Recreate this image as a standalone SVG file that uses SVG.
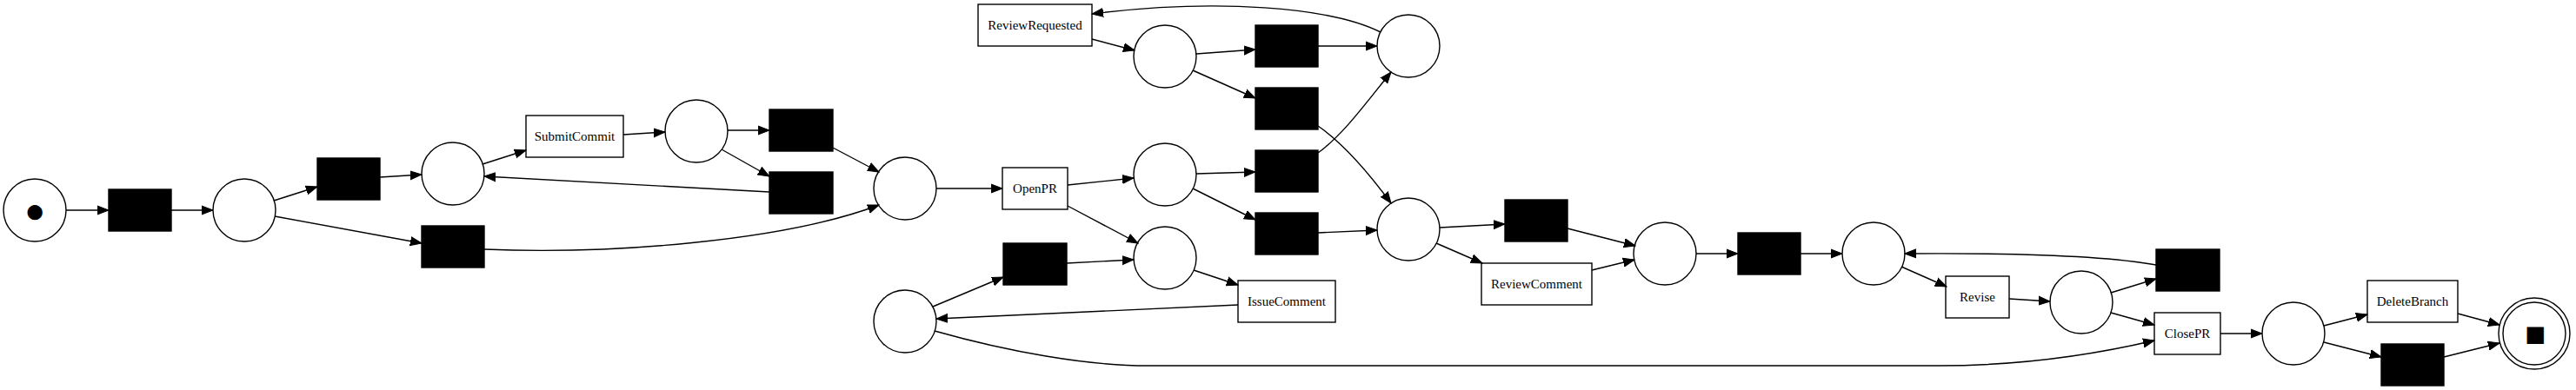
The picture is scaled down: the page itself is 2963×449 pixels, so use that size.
<svg xmlns="http://www.w3.org/2000/svg" width="2963" height="449" viewBox="0 0 2963 449">
<defs>
<style>
.place{fill:#fff;stroke:#000;stroke-width:1.4}
.inv{fill:#000;stroke:#000;stroke-width:1.4}
.box{fill:#fff;stroke:#000;stroke-width:1.4}
.lbl{font-family:"Liberation Serif","Times New Roman",serif;font-size:15px;fill:#000;text-anchor:middle}
.tok{font-family:"Liberation Sans","DejaVu Sans",sans-serif;fill:#000;text-anchor:middle}
.edge path{fill:none;stroke:#000;stroke-width:1.4;marker-end:url(#arr)}
</style>
<marker id="arr" markerUnits="userSpaceOnUse" markerWidth="14" markerHeight="12" refX="13" refY="5" orient="auto" viewBox="0 0 14 10">
<path d="M0,0 L13,5 L0,10 z" fill="#000" stroke="#000" stroke-width="1"/>
</marker>
</defs>
<rect width="2963" height="449" fill="#fff"/>

<g id="nodes">
<g id="p_start"><circle class="place" cx="40" cy="242" r="36"/><text class="tok" x="40" y="256" font-size="40">●</text></g>
<g id="t1"><rect class="inv" x="125" y="218" width="72" height="48"/></g>
<g id="p1"><circle class="place" cx="281" cy="242" r="36"/></g>
<g id="t2"><rect class="inv" x="365" y="182" width="72" height="48"/></g>
<g id="t3"><rect class="inv" x="485" y="260" width="72" height="48"/></g>
<g id="p2"><circle class="place" cx="521" cy="200" r="36"/></g>
<g id="SubmitCommit"><rect class="box" x="605" y="133" width="112" height="48"/><text class="lbl" x="661" y="162">SubmitCommit</text></g>
<g id="p3"><circle class="place" cx="801" cy="151" r="36"/></g>
<g id="t4"><rect class="inv" x="885" y="126" width="73" height="48"/></g>
<g id="t5"><rect class="inv" x="885" y="198" width="73" height="48"/></g>
<g id="p4"><circle class="place" cx="1041" cy="217" r="36"/></g>
<g id="OpenPR"><rect class="box" x="1153" y="193" width="75" height="48"/><text class="lbl" x="1190.5" y="222">OpenPR</text></g>
<g id="ReviewRequested"><rect class="box" x="1125" y="5" width="131" height="48"/><text class="lbl" x="1190.5" y="34">ReviewRequested</text></g>
<g id="t6"><rect class="inv" x="1154" y="280" width="73" height="48"/></g>
<g id="p7"><circle class="place" cx="1041" cy="370" r="36"/></g>
<g id="p8"><circle class="place" cx="1340" cy="65" r="36"/></g>
<g id="p5"><circle class="place" cx="1340" cy="201" r="36"/></g>
<g id="p6"><circle class="place" cx="1340" cy="297" r="36"/></g>
<g id="t7"><rect class="inv" x="1444" y="29" width="72" height="48"/></g>
<g id="t8"><rect class="inv" x="1444" y="101" width="72" height="48"/></g>
<g id="t9"><rect class="inv" x="1444" y="173" width="72" height="48"/></g>
<g id="t10"><rect class="inv" x="1444" y="245" width="72" height="48"/></g>
<g id="IssueComment"><rect class="box" x="1424" y="323" width="112" height="48"/><text class="lbl" x="1480" y="352">IssueComment</text></g>
<g id="p9"><circle class="place" cx="1620" cy="53" r="36"/></g>
<g id="p10"><circle class="place" cx="1620" cy="264" r="36"/></g>
<g id="t11"><rect class="inv" x="1731" y="230" width="72" height="48"/></g>
<g id="ReviewComment"><rect class="box" x="1704" y="303" width="127" height="48"/><text class="lbl" x="1767.5" y="332">ReviewComment</text></g>
<g id="p11"><circle class="place" cx="1915" cy="292" r="36"/></g>
<g id="t12"><rect class="inv" x="1999" y="268" width="72" height="48"/></g>
<g id="p12"><circle class="place" cx="2155" cy="292" r="36"/></g>
<g id="Revise"><rect class="box" x="2238" y="318" width="73" height="48"/><text class="lbl" x="2274.5" y="347">Revise</text></g>
<g id="p13"><circle class="place" cx="2394" cy="348" r="36"/></g>
<g id="t13"><rect class="inv" x="2480" y="287" width="73" height="48"/></g>
<g id="ClosePR"><rect class="box" x="2478" y="360" width="76" height="48"/><text class="lbl" x="2516" y="389">ClosePR</text></g>
<g id="p14"><circle class="place" cx="2638" cy="384" r="36"/></g>
<g id="DeleteBranch"><rect class="box" x="2723" y="323" width="104" height="48"/><text class="lbl" x="2775" y="352">DeleteBranch</text></g>
<g id="t14"><rect class="inv" x="2739" y="396" width="72" height="48"/></g>
<g id="p_end"><circle class="place" cx="2915" cy="384" r="41"/><circle class="place" cx="2915" cy="384" r="36"/><text class="tok" x="2916" y="398" font-size="40">■</text></g>
</g>

<g id="edges" class="edge">
<path d="M76,242 L125,242"/>
<path d="M197,242 L245,242"/>
<path d="M315,231 L365,215"/>
<path d="M316,249 L485,280"/>
<path d="M437,204 L485,201"/>
<path d="M555,189 L605,173"/>
<path d="M717,155 L765,152"/>
<path d="M837,150 L885,150"/>
<path d="M830,172 L885,203"/>
<path d="M958,170 L1011,198"/>
<path d="M885,221 L557,203"/>
<path d="M557,287 C700,293 900,278 1011,236"/>
<path d="M1077,217 L1153,217"/>
<path d="M1228,213 L1304,205"/>
<path d="M1228,237 L1309,280"/>
<path d="M1227,303 L1304,299"/>
<path d="M1073,353 L1154,319"/>
<path d="M1373,311 L1424,328"/>
<path d="M1424,351 L1077,367"/>
<path d="M1075,381 C1160,405 1250,421 1320,421 L2230,421 C2330,421 2410,408 2478,392"/>
<path d="M1376,200 L1444,198"/>
<path d="M1372,217 L1444,253"/>
<path d="M1516,176 C1545,155 1570,120 1600,83"/>
<path d="M1516,145 C1545,165 1575,200 1600,234"/>
<path d="M1516,268 L1584,265"/>
<path d="M1376,62 L1444,57"/>
<path d="M1372,81 L1444,113"/>
<path d="M1516,53 L1584,53"/>
<path d="M1588,37 C1530,8 1400,-2 1256,16"/>
<path d="M1256,45 L1305,58"/>
<path d="M1656,262 L1731,258"/>
<path d="M1652,280 L1705,303"/>
<path d="M1803,263 L1881,283"/>
<path d="M1831,311 L1880,299"/>
<path d="M1951,292 L1999,292"/>
<path d="M2071,292 L2119,292"/>
<path d="M2187,307 L2239,330"/>
<path d="M2480,305 C2420,294 2320,291 2191,292"/>
<path d="M2311,344 L2358,347"/>
<path d="M2428,337 L2480,321"/>
<path d="M2428,360 L2478,374"/>
<path d="M2554,384 L2602,384"/>
<path d="M2673,375 L2723,362"/>
<path d="M2673,394 L2739,411"/>
<path d="M2827,361 L2875,374"/>
<path d="M2811,411 L2875,395"/>
</g>
</svg>
